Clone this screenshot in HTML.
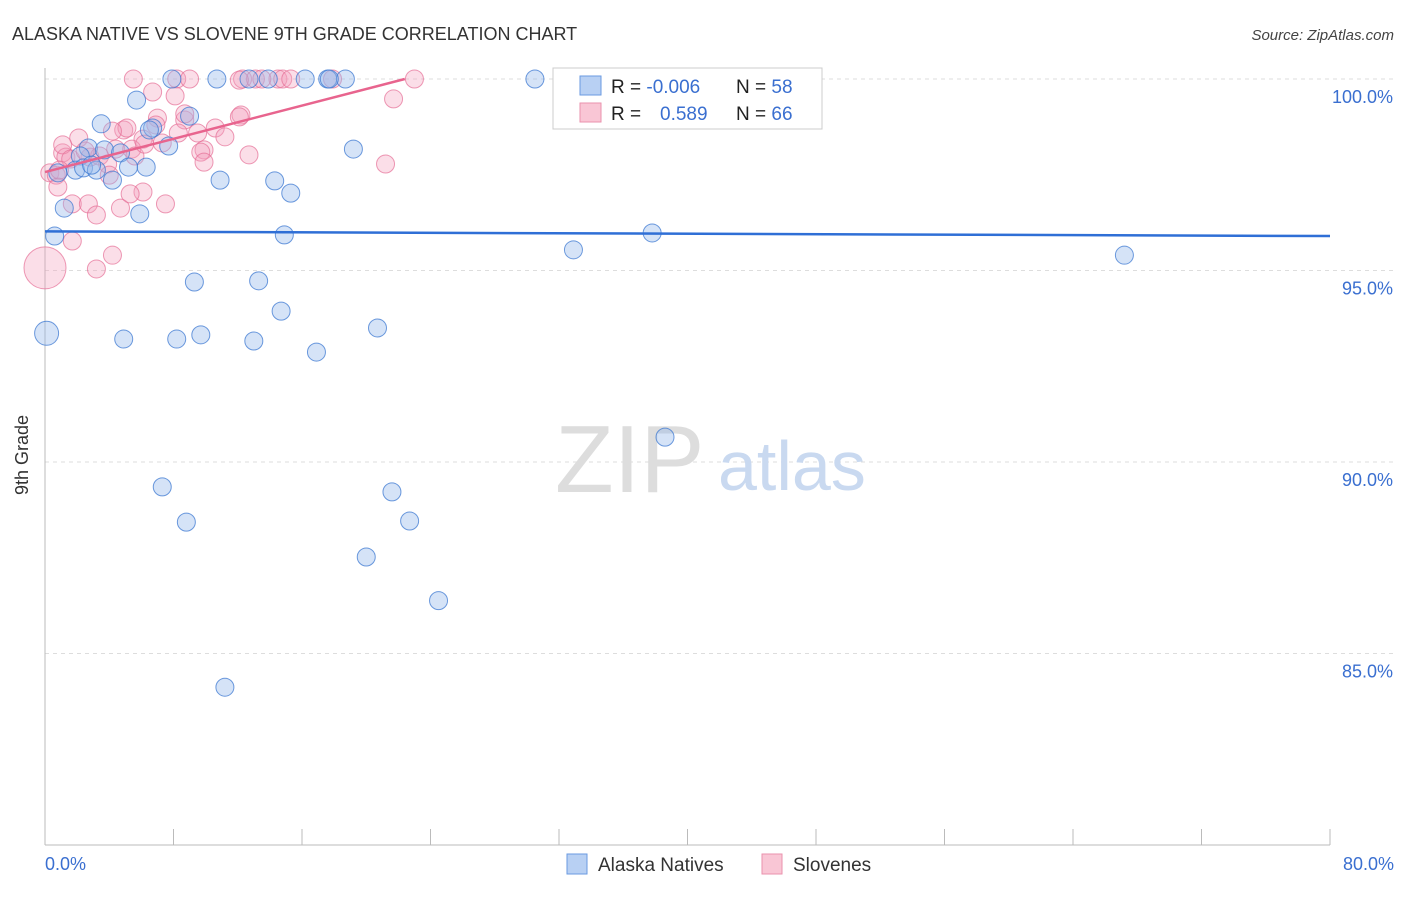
<!DOCTYPE html>
<html><head><meta charset="utf-8"><style>
body{margin:0;background:#fff;font-family:"Liberation Sans",sans-serif}
svg text{font-family:"Liberation Sans",sans-serif}
</style></head><body>
<svg width="1406" height="892" viewBox="0 0 1406 892">
<text x="12" y="40" font-size="18" fill="#333">ALASKA NATIVE VS SLOVENE 9TH GRADE CORRELATION CHART</text>
<text x="1394" y="40" font-size="15" fill="#444" text-anchor="end" font-style="italic">Source: ZipAtlas.com</text>
<g id="grid"></g>
<line x1="45" y1="68" x2="45" y2="845" stroke="#bbb"/>
<line x1="45" y1="845" x2="1330" y2="845" stroke="#bbb"/>
<text x="28" y="455" font-size="18" fill="#333" text-anchor="middle" transform="rotate(-90 28 455)">9th Grade</text>
<text x="555" y="492" font-size="96" fill="#ddd" font-family="Liberation Serif">ZIP</text>
<text x="718" y="490" font-size="70" fill="#c9d9f0">atlas</text>
<text x="45" y="870" font-size="18" fill="#3a6fd0">0.0%</text>
<text x="1394" y="870" font-size="18" fill="#3a6fd0" text-anchor="end">80.0%</text>
<g id="points"></g>
<g id="trends"></g>
<g>
<rect x="553" y="68" width="269" height="61" fill="#fff" stroke="#ccc"/>
<rect x="580" y="76" width="21" height="19" fill="#b8d0f3" stroke="#6a9ae0"/>
<rect x="580" y="103" width="21" height="19" fill="#f9c6d5" stroke="#ea92ad"/>
<text x="611" y="93" font-size="19" fill="#222">R = <tspan fill="#3a6fd0">-0.006</tspan></text>
<text x="736" y="93" font-size="19" fill="#222">N = <tspan fill="#3a6fd0">58</tspan></text>
<text x="611" y="120" font-size="19" fill="#222">R = <tspan fill="#3a6fd0" x="660">0.589</tspan></text>
<text x="736" y="120" font-size="19" fill="#222">N = <tspan fill="#3a6fd0">66</tspan></text>
</g>
<g><rect x="567" y="854" width="20" height="20" fill="#b8d0f3" stroke="#6a9ae0"/><text x="598" y="871" font-size="19" fill="#333">Alaska Natives</text></g>
<g><rect x="762" y="854" width="20" height="20" fill="#f9c6d5" stroke="#ea92ad"/><text x="793" y="871" font-size="19" fill="#333">Slovenes</text></g>
</svg>
<script>
const yTicks=[100,95,90,85];
const xTickVals=[0,8,16,24,32,40,48,56,64,72,80];
const blueX=[7.9,10.7,12.7,13.9,16.2,17.6,18.7,30.5,41.4,44.5,5.7,9.0,3.5,6.7,2.7,7.7,3.7,4.7,2.2,1.9,2.4,3.2,4.2,5.2,6.3,10.9,14.3,15.3,19.2,1.2,5.9,0.6,14.9,32.9,37.8,67.2,9.3,13.3,14.7,0.1,4.9,8.2,9.7,13.0,16.9,20.7,38.6,7.3,8.8,21.6,22.7,20.0,24.5,11.2,0.8,2.9,6.5,17.7];
const blueY=[100,100,100,100,100,100,100,100,100,100,99.45,99.03,98.83,98.72,98.2,98.25,98.15,98.07,97.99,97.62,97.68,97.62,97.36,97.7,97.7,97.36,97.34,97.02,98.17,96.63,96.48,95.9,95.93,95.54,95.98,95.4,94.7,94.73,93.94,93.36,93.21,93.21,93.32,93.16,92.87,93.5,90.65,89.35,88.43,89.22,88.46,87.52,86.38,84.12,97.55,97.75,98.67,100];
const pinkX=[5.5,8.2,9.0,12.3,13.1,14.5,14.8,15.3,17.9,23.0,33.3,6.7,8.1,21.7,12.2,7.0,8.7,10.6,4.9,5.1,4.2,2.1,6.1,8.3,9.5,12.1,9.9,12.7,9.7,1.1,1.3,2.8,3.4,4.4,5.4,5.6,3.9,21.2,0.3,0.7,0.8,6.1,1.7,2.7,4.7,7.5,3.2,1.7,4.2,3.2,0,1.1,1.6,2.5,6.2,11.2,8.7,12.1,13.5,6.9,4.0,5.3,7.3,9.9,0.9];
const pinkY=[100,100,100,100,100,100,100,100,100,100,100,99.66,99.56,99.48,99.06,98.98,98.93,98.72,98.67,98.72,98.64,98.46,98.43,98.59,98.59,99.01,98.15,98.02,98.09,98.07,97.96,97.96,97.99,98.17,98.17,97.99,97.78,97.78,97.55,97.49,97.18,97.05,96.74,96.74,96.63,96.74,96.45,95.77,95.4,95.04,95.07,98.28,97.91,98.12,98.3,98.49,99.09,99.97,100,98.8,97.49,97.0,98.33,97.83,97.62];
const blueTrend=[[0,96.02],[80,95.9]];
const pinkTrend=[[0,97.57],[22.4,100.0]];
const X=v=>45+v*16.0625, Y=v=>79+(100-v)*38.3;
const NS='http://www.w3.org/2000/svg';
function mk(tag,attrs,parent){const e=document.createElementNS(NS,tag);for(const k in attrs)e.setAttribute(k,attrs[k]);document.getElementById(parent).appendChild(e);return e;}
yTicks.forEach(t=>{
 const l=mk('line',{x1:45,x2:1393,y1:Y(t),y2:Y(t),stroke:'#ddd','stroke-dasharray':'4,4'},'grid');
 
 
 const tx=mk('text',{x:1393,y:Y(t)+24,'font-size':18,fill:'#3a6fd0','text-anchor':'end'},'grid');
 tx.textContent=t.toFixed(1)+'%';
 
 
});
xTickVals.forEach(t=>{
 const l=mk('line',{x1:X(t),x2:X(t),y1:829,y2:845,stroke:'#bbb'},'grid');
 
 
});
pinkX.forEach((v,i)=>{
 const r=(v===0&&pinkY[i]<95.2)?21:9;
 const c=mk('circle',{cx:X(v),cy:Y(pinkY[i]),r:r,fill:'rgba(244,160,188,0.35)',stroke:'rgba(230,110,150,0.7)','stroke-width':1},'points');
 
 
});
blueX.forEach((v,i)=>{
 const r=(v<0.3&&blueY[i]<94)?12:9;
 const c=mk('circle',{cx:X(v),cy:Y(blueY[i]),r:r,fill:'rgba(150,185,235,0.4)',stroke:'rgba(60,120,210,0.75)','stroke-width':1},'points');
 
 
});
const bt=mk('line',{x1:X(blueTrend[0][0]),y1:Y(blueTrend[0][1]),x2:X(blueTrend[1][0]),y2:Y(blueTrend[1][1]),stroke:'#2f6fd6','stroke-width':2.5},'trends');


const pt=mk('line',{x1:X(pinkTrend[0][0]),y1:Y(pinkTrend[0][1]),x2:X(pinkTrend[1][0]),y2:Y(pinkTrend[1][1]),stroke:'#e8648e','stroke-width':2.5},'trends');


</script>
</body></html>
